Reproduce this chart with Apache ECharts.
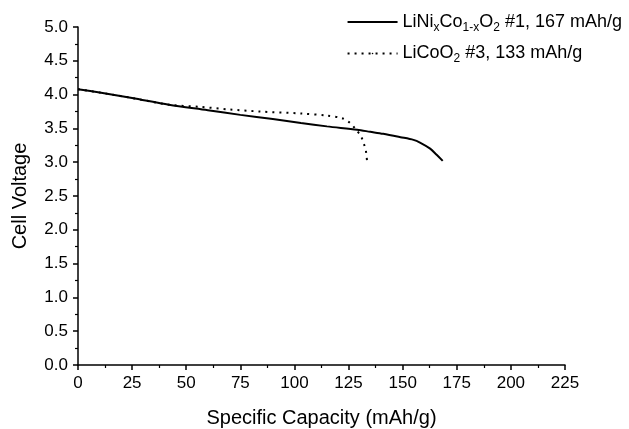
<!DOCTYPE html>
<html>
<head>
<meta charset="utf-8">
<script src="https://cdn.jsdelivr.net/npm/echarts@6/dist/echarts.min.js"></script>
<style>
  html, body { margin: 0; padding: 0; background: #fff; }
  #chart { width: 629px; height: 429px; }
</style>
</head>
<body>
<div id="chart"></div>
<script>
"use strict";

// LiNixCo1-xO2 #1
var nicoCapacity = [0, 10, 25, 42, 60, 75, 90, 103, 115, 129, 135, 141, 149, 155, 158, 162.7, 165.7, 168.5];
var nicoVoltage  = [4.08, 4.03, 3.95, 3.85, 3.77, 3.70, 3.64, 3.58, 3.53, 3.48, 3.45, 3.42, 3.37, 3.33, 3.29, 3.20, 3.11, 3.02];

// LiCoO2 #3
var lcoCapacity = [0, 10, 25, 42, 56, 70, 84, 103, 115, 122, 125.7, 128, 130.8, 132.2, 133, 133.5];
var lcoVoltage  = [4.08, 4.03, 3.95, 3.85, 3.82, 3.78, 3.75, 3.72, 3.69, 3.65, 3.58, 3.50, 3.38, 3.26, 3.17, 3.03];

var seriesNames = ['nico', 'lco'];
var xTicks = [0, 225, 25];
var yTicks = [0, 5, 0.5];

function pairs(xs, ys) {
	var out = [];
	for (var i = 0; i < xs.length; i++) {
		out.push([xs[i], ys[i]]);
	}
	return out;
}

var font = 'Liberation Sans, Arial, sans-serif';

var myChart = echarts.init(document.getElementById('chart'));

var option = {
	animation: false,
	backgroundColor: '#fff',
	grid: {
		left: 78,
		right: 64,
		top: 27,
		bottom: 64,
		outerBoundsMode: 'none'
	},
	legend: {
		right: 2,
		top: 8,
		orient: 'vertical',
		itemWidth: 50,
		itemHeight: 2,
		itemGap: 11,
		data: seriesNames,
		formatter: function (name) {
			if (name === 'nico') {
				return 'LiNi{sub|x}Co{sub|1-x}O{sub|2} #1, 167 mAh/g';
			}
			return 'LiCoO{sub|2} #3, 133 mAh/g';
		},
		textStyle: {
			fontFamily: font,
			fontSize: 18,
			color: '#000',
			rich: {
				sub: {
					fontFamily: font,
					fontSize: 12,
					color: '#000',
					padding: [11, 0, 0, 0]
				}
			}
		}
	},
	xAxis: {
		type: 'value',
		min: xTicks[0],
		max: xTicks[1],
		interval: xTicks[2],
		name: 'Specific Capacity (mAh/g)',
		nameLocation: 'middle',
		nameGap: 43,
		nameTextStyle: { fontFamily: font, fontSize: 20, color: '#000' },
		axisLine: { lineStyle: { color: '#000', width: 1.5 } },
		axisTick: { length: 5, lineStyle: { color: '#000', width: 1.5 } },
		minorTick: { show: true, splitNumber: 2, length: 3, lineStyle: { color: '#000', width: 1.2 } },
		axisLabel: { fontFamily: font, fontSize: 17, color: '#000', margin: 10 },
		splitLine: { show: false }
	},
	yAxis: {
		type: 'value',
		min: yTicks[0],
		max: yTicks[1],
		interval: yTicks[2],
		name: 'Cell Voltage',
		nameLocation: 'middle',
		nameGap: 48,
		nameTextStyle: { fontFamily: font, fontSize: 20, color: '#000' },
		axisLine: { show: true, lineStyle: { color: '#000', width: 1.5 } },
		axisTick: { show: true, length: 5, lineStyle: { color: '#000', width: 1.5 } },
		minorTick: { show: true, splitNumber: 2, length: 3, lineStyle: { color: '#000', width: 1.2 } },
		axisLabel: {
			fontFamily: font,
			fontSize: 17,
			color: '#000',
			margin: 10,
			formatter: function (v) { return v.toFixed(1); }
		},
		splitLine: { show: false }
	},
	series: [{
		name: 'nico',
		type: 'line',
		smooth: 0.3,
		symbol: 'none',
		data: pairs(nicoCapacity, nicoVoltage),
		lineStyle: { color: '#000', width: 2 },
		itemStyle: { color: '#000' }
	}, {
		name: 'lco',
		type: 'line',
		smooth: 0.3,
		symbol: 'none',
		data: pairs(lcoCapacity, lcoVoltage),
		lineStyle: { color: '#000', width: 2, type: [2, 5] },
		itemStyle: { color: '#000' }
	}]
};

myChart.setOption(option);
</script>
</body>
</html>
